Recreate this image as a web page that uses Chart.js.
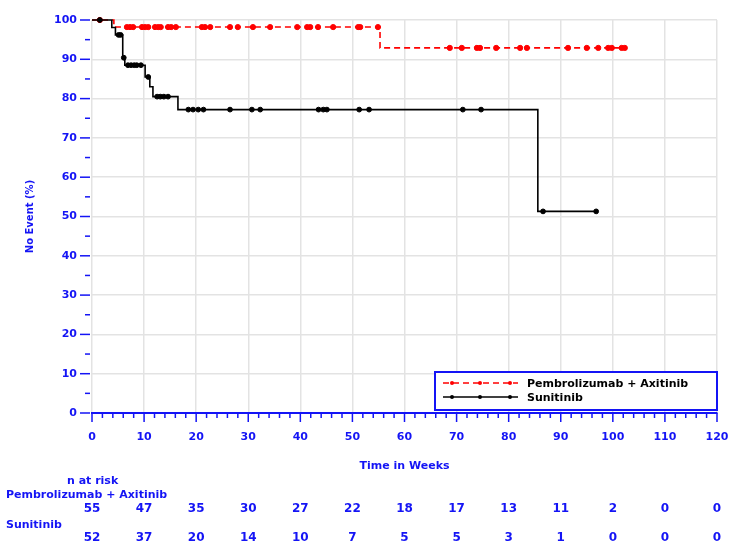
<!DOCTYPE html>
<html>
<head>
<meta charset="utf-8">
<script src="https://cdn.jsdelivr.net/npm/chart.js@4.4.1/dist/chart.umd.min.js"></script>
<style>
  body { margin: 0; background: #fff; }
  #wrap { width: 736px; height: 548px; position: relative; }
</style>
</head>
<body>
<div id="wrap"><canvas id="km"></canvas></div>
<script>
// risk table
const riskWeeks = [0, 10, 20, 30, 40, 50, 60, 70, 80, 90, 100, 110, 120];
const riskPembro = [55, 47, 35, 30, 27, 22, 18, 17, 13, 11, 2, 0, 0];
const riskSuni = [52, 37, 20, 14, 10, 7, 5, 5, 3, 1, 0, 0, 0];

// Pembrolizumab + Axitinib: step curve and censor marks
const pembroTimes = [0, 4.2, 55.3, 102.3];
const pembroSurv = [100, 98.2, 92.9, 92.9];
const pembroCensorTimes = [1.5, 6.7, 7.3, 7.9, 9.6, 10.2, 10.8, 12.1, 12.7, 13.2, 14.6, 15.2, 16.1,
  21.1, 21.7, 22.7, 26.5, 28.0, 30.9, 34.2, 39.4, 41.3, 41.9, 43.4, 46.3, 51.1, 51.5, 54.9,
  68.7, 71.0, 73.9, 74.5, 77.6, 82.2, 83.5, 91.4, 95.0, 97.2, 99.1, 99.8, 101.7, 102.3];
const pembroCensorSurv = [100, 98.2, 98.2, 98.2, 98.2, 98.2, 98.2, 98.2, 98.2, 98.2, 98.2, 98.2, 98.2,
  98.2, 98.2, 98.2, 98.2, 98.2, 98.2, 98.2, 98.2, 98.2, 98.2, 98.2, 98.2, 98.2, 98.2, 98.2,
  92.9, 92.9, 92.9, 92.9, 92.9, 92.9, 92.9, 92.9, 92.9, 92.9, 92.9, 92.9, 92.9, 92.9];

// Sunitinib
const suniTimes = [0, 3.8, 4.5, 5.9, 6.3, 10.2, 11.1, 11.7, 16.5, 85.6, 96.8];
const suniSurv = [100, 98.1, 96.2, 90.4, 88.5, 85.5, 83.0, 80.5, 77.2, 51.3, 51.3];
const suniCensorTimes = [1.5, 5.1, 5.5, 6.1, 6.9, 7.5, 8.1, 8.6, 9.4, 10.8, 12.5, 13.1, 13.8, 14.6,
  18.5, 19.4, 20.4, 21.4, 26.5, 30.7, 32.3, 43.5, 44.4, 45.1, 51.3, 53.2, 71.2, 74.7, 86.6, 96.8];
const suniCensorSurv = [100, 96.2, 96.2, 90.4, 88.5, 88.5, 88.5, 88.5, 88.5, 85.5, 80.5, 80.5, 80.5, 80.5,
  77.2, 77.2, 77.2, 77.2, 77.2, 77.2, 77.2, 77.2, 77.2, 77.2, 77.2, 77.2, 77.2, 77.2, 51.3, 51.3];

const blue = '#1414f5';
const gridGray = '#e3e3e3';
const fontFam = '"DejaVu Sans", "Liberation Sans", sans-serif';

const pts = (xs, ys) => xs.map((t, i) => ({ x: t, y: ys[i] }));

// axis ticks, legend box and the number-at-risk table
const kmDecor = {
  id: 'kmDecor',
  afterDraw(chart) {
    const { ctx, chartArea: a, scales: { x, y } } = chart;
    ctx.save();
    ctx.strokeStyle = blue;
    ctx.lineWidth = 1.5;
    for (let v = 0; v <= 120; v += 2) {
      const px = x.getPixelForValue(v);
      const len = v % 10 === 0 ? 9 : 5;
      ctx.beginPath(); ctx.moveTo(px, a.bottom); ctx.lineTo(px, a.bottom + len); ctx.stroke();
    }
    for (let v = 0; v <= 100; v += 5) {
      const py = y.getPixelForValue(v);
      const len = v % 10 === 0 ? 10 : 5;
      ctx.beginPath(); ctx.moveTo(a.left - 2, py); ctx.lineTo(a.left - 2 - len, py); ctx.stroke();
    }

    // legend
    const lx = 435, ly = 372, lw = 282, lh = 38;
    ctx.fillStyle = '#fff';
    ctx.fillRect(lx, ly, lw, lh);
    ctx.lineWidth = 2;
    ctx.strokeStyle = blue;
    ctx.strokeRect(lx, ly, lw, lh);
    const rows = [
      { label: 'Pembrolizumab + Axitinib', color: '#ff0000', dash: [6, 4], yy: ly + 11 },
      { label: 'Sunitinib', color: '#000', dash: [], yy: ly + 25 }
    ];
    ctx.font = 'bold 11px ' + fontFam;
    ctx.textBaseline = 'middle';
    ctx.textAlign = 'left';
    rows.forEach(r => {
      ctx.strokeStyle = r.color;
      ctx.fillStyle = r.color;
      ctx.lineWidth = 1.5;
      ctx.setLineDash(r.dash);
      ctx.beginPath(); ctx.moveTo(lx + 8, r.yy); ctx.lineTo(lx + 83, r.yy); ctx.stroke();
      ctx.setLineDash([]);
      [17, 45, 75].forEach(dx => {
        ctx.beginPath(); ctx.arc(lx + dx, r.yy, 2, 0, Math.PI * 2); ctx.fill();
      });
      ctx.fillStyle = '#000';
      ctx.fillText(r.label, lx + 92, r.yy + 1);
    });

    // number at risk
    ctx.fillStyle = blue;
    ctx.font = 'bold 11px ' + fontFam;
    ctx.textAlign = 'left';
    ctx.fillText('n at risk', 67, 481);
    ctx.fillText('Pembrolizumab + Axitinib', 6, 495);
    ctx.fillText('Sunitinib', 6, 525);
    ctx.font = 'bold 12px ' + fontFam;
    ctx.textAlign = 'center';
    riskWeeks.forEach((w, i) => {
      const px = x.getPixelForValue(w);
      ctx.fillText(String(riskPembro[i]), px, 509);
      ctx.fillText(String(riskSuni[i]), px, 538);
    });
    ctx.restore();
  }
};

new Chart(document.getElementById('km'), {
  type: 'scatter',
  data: {
    datasets: [
      {
        label: 'Sunitinib',
        data: pts(suniTimes, suniSurv),
        showLine: true,
        stepped: 'before',
        borderColor: '#000',
        borderWidth: 1.6,
        pointRadius: 0,
        clip: 8
      },
      {
        label: 'Sunitinib censored',
        data: pts(suniCensorTimes, suniCensorSurv),
        showLine: false,
        pointRadius: 2.4,
        pointBackgroundColor: '#000',
        pointBorderColor: '#000',
        clip: 8
      },
      {
        label: 'Pembrolizumab + Axitinib',
        data: pts(pembroTimes, pembroSurv),
        showLine: true,
        stepped: 'before',
        borderColor: '#ff0000',
        borderDash: [6, 4],
        borderWidth: 1.6,
        pointRadius: 0,
        clip: 8
      },
      {
        label: 'Pembrolizumab + Axitinib censored',
        data: pts(pembroCensorTimes, pembroCensorSurv),
        showLine: false,
        pointRadius: 2.6,
        pointBackgroundColor: '#ff0000',
        pointBorderColor: '#ff0000',
        clip: 8
      }
    ]
  },
  options: {
    responsive: true,
    maintainAspectRatio: false,
    animation: false,
    layout: { padding: { left: 0, right: 19, top: 20, bottom: 73 } },
    plugins: { legend: { display: false }, tooltip: { enabled: false } },
    scales: {
      x: {
        type: 'linear',
        min: 0,
        max: 120,
        afterFit: s => { s.height = 62; s.paddingLeft = 0; s.paddingRight = 0; },
        afterBuildTicks: s => {
          s.ticks = [];
          for (let v = 0; v <= 120; v += 10) s.ticks.push({ value: v });
        },
        border: { display: true, color: blue, width: 2 },
        grid: { color: gridGray, lineWidth: 1.5, drawTicks: false },
        ticks: {
          autoSkip: false,
          maxRotation: 0,
          padding: 18,
          color: blue,
          font: { family: fontFam, size: 11, weight: 'bold' }
        },
        title: {
          display: true,
          text: 'Time in Weeks',
          color: blue,
          padding: { top: 0, bottom: 2 },
          font: { family: fontFam, size: 11, weight: 'bold' }
        }
      },
      y: {
        min: 0,
        max: 100,
        afterFit: s => { s.width = 92; s.paddingTop = 0; s.paddingBottom = 0; },
        afterBuildTicks: s => {
          s.ticks = [];
          for (let v = 0; v <= 100; v += 10) s.ticks.push({ value: v });
        },
        border: { display: false },
        grid: { color: gridGray, lineWidth: 1.5, drawTicks: false },
        ticks: {
          padding: 15,
          color: blue,
          font: { family: fontFam, size: 11, weight: 'bold' }
        },
        title: {
          display: true,
          text: 'No Event (%)',
          color: blue,
          padding: { top: 24, bottom: 0 },
          font: { family: fontFam, size: 10, weight: 'bold' }
        }
      }
    }
  },
  plugins: [kmDecor]
});
</script>
</body>
</html>
